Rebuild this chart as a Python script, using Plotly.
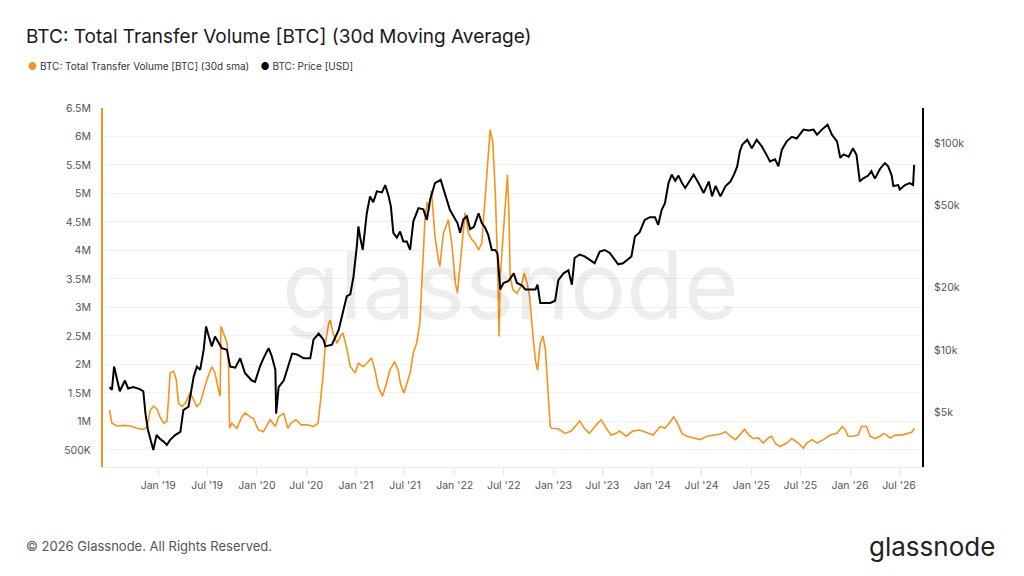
import plotly.graph_objects as go

# Total transfer volume, 30d sma (millions of BTC)
vol_dates = [
    "2018-07-05", "2018-07-14", "2018-08-02", "2018-08-26", "2018-09-20", "2018-10-14",
    "2018-11-08", "2018-11-20", "2018-12-03", "2018-12-15", "2018-12-27",
    "2019-01-08", "2019-01-21", "2019-02-02", "2019-02-08", "2019-02-14", "2019-02-27",
    "2019-03-09", "2019-03-17", "2019-03-30", "2019-04-11", "2019-04-23", "2019-04-29",
    "2019-05-12", "2019-05-24", "2019-06-05", "2019-06-18", "2019-06-30", "2019-07-18",
    "2019-07-30", "2019-08-12", "2019-08-18", "2019-08-21", "2019-08-30", "2019-09-12",
    "2019-09-18", "2019-09-22", "2019-09-30", "2019-10-19", "2019-11-06", "2019-11-18",
    "2019-12-07", "2019-12-19",
    "2020-01-06", "2020-01-25", "2020-02-07", "2020-02-19", "2020-03-09", "2020-03-21",
    "2020-04-09", "2020-04-24", "2020-05-06", "2020-05-24", "2020-06-12", "2020-07-06",
    "2020-07-28", "2020-08-14", "2020-08-22", "2020-09-01", "2020-09-10", "2020-09-22",
    "2020-09-28", "2020-10-08", "2020-10-23", "2020-11-04", "2020-11-14", "2020-11-29",
    "2020-12-11", "2020-12-29",
    "2021-01-10", "2021-01-28", "2021-02-10", "2021-02-28", "2021-03-12", "2021-03-24",
    "2021-04-09", "2021-04-24", "2021-05-06", "2021-05-24", "2021-06-06", "2021-06-15",
    "2021-06-27", "2021-07-09", "2021-07-20", "2021-08-01", "2021-08-13", "2021-08-25",
    "2021-09-07", "2021-09-13", "2021-09-21", "2021-09-28", "2021-10-07", "2021-10-13",
    "2021-10-20", "2021-11-01", "2021-11-07", "2021-11-20", "2021-12-08", "2021-12-21",
    "2022-01-03", "2022-01-11", "2022-01-21", "2022-01-27", "2022-02-08", "2022-02-21",
    "2022-03-05", "2022-03-17", "2022-03-30", "2022-04-11", "2022-04-24", "2022-05-02",
    "2022-05-12", "2022-05-22", "2022-05-31", "2022-06-08", "2022-06-14", "2022-06-18",
    "2022-06-30", "2022-07-10", "2022-07-15", "2022-07-20", "2022-07-25", "2022-08-04",
    "2022-08-19", "2022-09-03", "2022-09-15", "2022-09-25", "2022-10-05", "2022-10-14",
    "2022-10-26", "2022-11-03", "2022-11-13", "2022-11-23", "2022-12-02", "2022-12-10",
    "2022-12-14", "2022-12-20", "2022-12-26",
    "2023-01-19", "2023-02-12", "2023-03-08", "2023-03-27", "2023-04-08", "2023-04-26",
    "2023-05-14", "2023-06-08", "2023-06-26", "2023-07-15", "2023-08-02", "2023-08-21",
    "2023-09-02", "2023-09-27", "2023-10-21", "2023-11-15", "2023-12-10",
    "2024-01-05", "2024-01-30", "2024-02-17", "2024-03-07", "2024-03-20", "2024-04-01",
    "2024-04-20", "2024-05-08", "2024-06-02", "2024-06-27", "2024-07-21", "2024-08-15",
    "2024-09-09", "2024-09-28", "2024-10-16", "2024-11-04", "2024-11-22", "2024-12-07",
    "2024-12-23",
    "2025-01-08", "2025-01-27", "2025-02-14", "2025-03-05", "2025-03-17", "2025-03-30",
    "2025-04-17", "2025-05-12", "2025-05-31", "2025-06-24", "2025-07-13", "2025-07-25",
    "2025-08-13", "2025-09-01", "2025-09-25", "2025-10-20", "2025-11-14", "2025-12-03",
    "2025-12-15", "2025-12-25",
    "2026-01-12", "2026-01-31", "2026-02-12", "2026-03-03", "2026-03-16", "2026-04-03",
    "2026-04-22", "2026-05-04", "2026-05-17", "2026-05-29", "2026-06-17", "2026-07-11",
    "2026-07-30", "2026-08-17", "2026-08-27",
]
vol_m = [
    1.20, 0.97, 0.92, 0.93, 0.92, 0.88,
    0.86, 0.90, 1.20, 1.27, 1.22,
    1.08, 0.97, 1.00, 1.38, 1.85, 1.88,
    1.73, 1.32, 1.26, 1.32, 1.44, 1.50,
    1.38, 1.26, 1.32, 1.55, 1.73, 1.96,
    1.85, 1.55, 1.44, 2.67, 2.55, 2.38,
    2.00, 0.88, 0.97, 0.88, 1.08, 1.15,
    1.08, 1.05,
    0.85, 0.82, 0.93, 1.03, 0.91, 1.08,
    1.14, 0.88, 0.97, 1.03, 0.94, 0.94,
    0.91, 0.97, 1.32, 1.79, 2.37, 2.72,
    2.78, 2.55, 2.37, 2.49, 2.55, 2.26,
    1.96, 1.85,
    2.02, 1.96, 2.02, 2.11, 1.90, 1.61,
    1.44, 1.67, 1.90, 2.05, 1.90, 1.65,
    1.50, 1.67, 1.85, 2.20, 2.37, 2.72,
    3.90, 4.55, 4.85, 4.70, 5.05, 4.60,
    4.25, 3.85, 3.72, 4.30, 4.54, 4.13,
    3.43, 3.25, 3.72, 4.13, 4.66, 4.30,
    4.19, 4.13, 4.01, 4.13, 5.00, 5.59,
    6.12, 5.89, 5.00, 3.84, 2.49, 3.54,
    4.42, 5.12, 5.33, 4.71, 3.54, 3.31,
    3.25, 3.37, 3.60, 3.43, 3.19, 2.67,
    2.08, 1.90, 2.37, 2.50, 2.26, 1.67,
    1.38, 0.91, 0.88,
    0.87, 0.79, 0.83, 0.94, 1.01, 0.87,
    0.79, 0.94, 1.03, 0.88, 0.76, 0.79,
    0.83, 0.74, 0.83, 0.85, 0.80,
    0.76, 0.91, 0.88, 0.99, 1.08, 0.99,
    0.79, 0.74, 0.71, 0.68, 0.74, 0.76,
    0.78, 0.82, 0.74, 0.68, 0.78, 0.86,
    0.76,
    0.70, 0.71, 0.62, 0.71, 0.74, 0.62,
    0.56, 0.62, 0.70, 0.62, 0.53, 0.62,
    0.68, 0.62, 0.68, 0.76, 0.79, 0.91,
    0.85, 0.74,
    0.74, 0.76, 0.91, 0.91, 0.74, 0.70,
    0.74, 0.79, 0.76, 0.71, 0.76, 0.76,
    0.79, 0.81, 0.88,
]

# BTC price (thousands of USD)
price_dates = [
    "2018-07-05", "2018-07-14", "2018-07-22", "2018-07-31", "2018-08-12", "2018-08-31",
    "2018-09-12", "2018-10-01", "2018-10-25", "2018-11-07", "2018-11-15", "2018-11-24",
    "2018-12-07", "2018-12-14", "2018-12-26",
    "2019-01-08", "2019-01-21", "2019-02-02", "2019-02-14", "2019-03-06", "2019-03-24",
    "2019-04-04", "2019-04-23", "2019-05-12", "2019-05-24", "2019-06-05", "2019-06-18",
    "2019-06-27", "2019-07-04", "2019-07-18", "2019-07-30", "2019-08-12", "2019-08-24",
    "2019-09-12", "2019-09-24", "2019-10-13", "2019-10-31", "2019-11-18", "2019-12-13",
    "2019-12-25",
    "2020-01-12", "2020-01-25", "2020-02-13", "2020-02-25", "2020-03-09", "2020-03-12",
    "2020-03-21", "2020-04-09", "2020-04-27", "2020-05-10", "2020-05-28", "2020-06-22",
    "2020-07-16", "2020-07-28", "2020-08-16", "2020-09-03", "2020-09-10", "2020-10-04",
    "2020-10-29", "2020-11-10", "2020-11-28", "2020-12-11", "2020-12-23",
    "2021-01-04", "2021-01-10", "2021-01-16", "2021-01-26", "2021-02-10", "2021-02-22",
    "2021-03-06", "2021-03-19", "2021-04-07", "2021-04-19", "2021-05-01", "2021-05-10",
    "2021-05-19", "2021-06-01", "2021-06-13", "2021-06-25", "2021-07-08", "2021-07-20",
    "2021-08-01", "2021-08-20", "2021-09-07", "2021-09-20", "2021-10-02", "2021-10-20",
    "2021-11-10", "2021-11-26", "2021-12-14",
    "2022-01-11", "2022-01-21", "2022-02-02", "2022-02-15", "2022-02-27", "2022-03-13",
    "2022-03-30", "2022-04-11", "2022-04-23", "2022-05-05", "2022-05-18", "2022-05-30",
    "2022-06-08", "2022-06-18", "2022-06-30", "2022-07-19", "2022-08-07", "2022-08-19",
    "2022-09-07", "2022-09-19", "2022-10-08", "2022-10-26", "2022-11-03", "2022-11-13",
    "2022-12-02", "2022-12-20",
    "2023-01-07", "2023-01-19", "2023-02-07", "2023-02-25", "2023-03-10", "2023-03-20",
    "2023-04-08", "2023-04-26", "2023-05-14", "2023-06-02", "2023-06-21", "2023-07-09",
    "2023-07-28", "2023-08-15", "2023-08-28", "2023-09-15", "2023-10-04", "2023-10-16",
    "2023-10-29", "2023-11-15", "2023-12-04", "2023-12-23",
    "2024-01-11", "2024-01-23", "2024-02-05", "2024-02-17", "2024-03-01", "2024-03-13",
    "2024-03-26", "2024-04-07", "2024-04-20", "2024-05-02", "2024-05-21", "2024-06-02",
    "2024-06-20", "2024-07-09", "2024-07-28", "2024-08-09", "2024-08-22", "2024-09-09",
    "2024-09-28", "2024-10-16", "2024-10-29", "2024-11-10", "2024-11-20", "2024-11-29",
    "2024-12-17",
    "2025-01-03", "2025-01-21", "2025-02-09", "2025-02-27", "2025-03-11", "2025-03-30",
    "2025-04-11", "2025-04-24", "2025-05-12", "2025-05-31", "2025-06-18", "2025-07-13",
    "2025-08-01", "2025-08-19", "2025-09-01", "2025-09-19", "2025-10-10", "2025-10-26",
    "2025-11-14", "2025-11-26", "2025-12-08", "2025-12-27",
    "2026-01-12", "2026-01-25", "2026-02-06", "2026-02-18", "2026-03-09", "2026-03-21",
    "2026-04-03", "2026-04-22", "2026-05-10", "2026-05-22", "2026-06-04", "2026-06-10",
    "2026-06-28", "2026-07-04", "2026-07-23", "2026-08-10", "2026-08-22", "2026-08-26",
]
price_k = [
    6.6, 6.4, 8.3, 7.4, 6.3, 7.1,
    6.5, 6.6, 6.45, 6.3, 4.9, 4.1,
    3.5, 3.27, 3.87,
    3.7, 3.59, 3.46, 3.66, 3.87, 4.0,
    5.1, 5.3, 7.4, 8.3, 8.0, 10.0,
    13.0, 12.0, 10.4, 11.6, 10.8, 10.2,
    10.0, 8.3, 8.2, 9.1, 7.7, 7.1,
    7.0,
    8.3, 9.1, 10.2, 9.3, 8.0, 4.9,
    6.6, 7.1, 8.6, 9.6, 9.5, 9.1,
    9.1, 11.2, 12.0, 11.2, 10.4, 10.6,
    12.5, 14.5, 18.2, 18.6, 22.7,
    31.7, 39.7, 35.4, 30.5, 46.0, 55.5,
    52.0, 58.7, 58.0, 63.0, 56.0, 49.7,
    36.9, 35.0, 37.5, 33.5, 33.5, 30.5,
    42.0, 48.7, 48.0, 42.7, 53.5, 64.4,
    66.8, 56.5, 47.8,
    41.2, 37.0, 43.0, 44.4, 38.5, 39.5,
    46.0, 41.2, 39.2, 36.0, 30.5, 30.5,
    29.4, 19.6, 21.1, 21.6, 23.5, 21.1,
    20.5, 19.6, 19.6, 19.6, 20.7, 16.9,
    16.9, 16.9,
    17.3, 21.8, 23.5, 24.3, 20.7, 27.9,
    29.0, 28.4, 27.4, 26.3, 30.0, 30.5,
    29.5, 27.4, 26.0, 26.3, 27.4, 28.4,
    35.5, 37.1, 42.7, 44.0,
    44.0, 40.4, 47.8, 51.5, 64.4, 70.8,
    66.0, 70.0, 64.4, 61.0, 66.8, 70.8,
    64.4, 57.7, 65.5, 55.5, 62.3, 55.5,
    62.3, 65.5, 70.8, 77.6, 92.0, 99.0,
    104.5,
    95.0, 104.5, 97.0, 88.0, 82.0, 84.0,
    77.6, 93.5, 102.6, 108.0, 106.0, 117.0,
    116.0, 117.0, 110.6, 117.0, 123.6, 110.6,
    102.6, 85.3, 88.7, 86.5,
    95.0, 88.0, 65.6, 67.7, 70.0, 73.5,
    67.7, 75.6, 80.5, 77.6, 70.0, 62.3,
    63.0, 59.9, 63.0, 64.4, 63.0, 79.0,
]

# axis ticks
x_tickvals = ["2019-01-01", "2019-07-01", "2020-01-01", "2020-07-01", "2021-01-01",
              "2021-07-01", "2022-01-01", "2022-07-01", "2023-01-01", "2023-07-01",
              "2024-01-01", "2024-07-01", "2025-01-01", "2025-07-01", "2026-01-01",
              "2026-07-01"]
x_ticktext = ["Jan '19", "Jul '19", "Jan '20", "Jul '20", "Jan '21", "Jul '21",
              "Jan '22", "Jul '22", "Jan '23", "Jul '23", "Jan '24", "Jul '24",
              "Jan '25", "Jul '25", "Jan '26", "Jul '26"]
vol_tickvals = [0.5e6, 1e6, 1.5e6, 2e6, 2.5e6, 3e6, 3.5e6, 4e6, 4.5e6, 5e6, 5.5e6, 6e6, 6.5e6]
vol_ticktext = ["500K", "1M", "1.5M", "2M", "2.5M", "3M", "3.5M", "4M", "4.5M",
                "5M", "5.5M", "6M", "6.5M"]
price_tickvals = [5000, 10000, 20000, 50000, 100000]
price_ticktext = ["$5k", "$10k", "$20k", "$50k", "$100k"]

ORANGE = "#F7931A"
FONT = "Inter"

fig = go.Figure()
fig.add_trace(go.Scatter(x=price_dates, y=[p * 1000 for p in price_k], yaxis="y2",
                         mode="lines", line=dict(color="#000000", width=2),
                         name="BTC: Price [USD]"))
fig.add_trace(go.Scatter(x=vol_dates, y=[v * 1e6 for v in vol_m],
                         mode="lines", line=dict(color=ORANGE, width=1.6),
                         name="BTC: Total Transfer Volume [BTC] (30d sma)"))

# the page body has an 8px margin, so the figure is 8px smaller each way
fig.update_layout(
    width=1016, height=568,
    margin=dict(l=95, r=102, t=100, b=109),
    plot_bgcolor="white", paper_bgcolor="white",
    showlegend=False,
    font=dict(family=FONT, color="#555555"),
    xaxis=dict(type="date", range=["2018-06-11", "2026-09-24"],
               tickvals=x_tickvals, ticktext=x_ticktext,
               showgrid=False, zeroline=False,
               showline=True, linecolor="#eeeeee", linewidth=1,
               ticks="outside", ticklen=8, tickcolor="#e6e6e6",
               tickfont=dict(size=10.5, color="#555555")),
    yaxis=dict(range=[0.2e6, 6.5e6], tickvals=vol_tickvals, ticktext=vol_ticktext,
               showgrid=True, gridcolor="#f2f2f2", zeroline=False,
               showline=True, linecolor=ORANGE, linewidth=2,
               ticks="", ticklabelstandoff=8,
               tickfont=dict(size=10.5, color="#555555")),
    yaxis2=dict(type="log", range=[3.432, 5.173], overlaying="y", side="right",
                tickvals=price_tickvals, ticktext=price_ticktext,
                showgrid=False, zeroline=False,
                showline=True, linecolor="#000000", linewidth=2,
                ticks="", ticklabelstandoff=8,
                tickfont=dict(size=10.5, color="#555555")),
)

# title, legend, watermark, footer
fig.add_annotation(text="BTC: Total Transfer Volume [BTC] (30d Moving Average)",
                   xref="paper", yref="paper", x=-0.097, y=1.199,
                   xanchor="left", yanchor="middle", showarrow=False,
                   font=dict(family=FONT, size=19, color="#1a1a1a"))
fig.add_annotation(text=f"<span style='color:{ORANGE}'>●</span> BTC: Total Transfer Volume [BTC] (30d sma)"
                        "&nbsp;&nbsp;&nbsp;&nbsp;<span style='color:#000'>●</span> BTC: Price [USD]",
                   xref="paper", yref="paper", x=-0.094, y=1.118,
                   xanchor="left", yanchor="middle", showarrow=False,
                   font=dict(family=FONT, size=10, color="#333333"))
fig.add_annotation(text="glassnode", xref="paper", yref="paper", x=0.497, y=0.507,
                   xanchor="center", yanchor="middle", showarrow=False,
                   font=dict(family=FONT, size=94, color="rgba(0,0,0,0.07)"))
fig.add_annotation(text="© 2026 Glassnode. All Rights Reserved.",
                   xref="paper", yref="paper", x=-0.097, y=-0.220,
                   xanchor="left", yanchor="middle", showarrow=False,
                   font=dict(family=FONT, size=13, color="#555555"))
fig.add_annotation(text="glassnode", xref="paper", yref="paper", x=1.0916, y=-0.222,
                   xanchor="right", yanchor="middle", showarrow=False,
                   font=dict(family=FONT, size=26, color="#222222"))

fig.write_html("out.html")
